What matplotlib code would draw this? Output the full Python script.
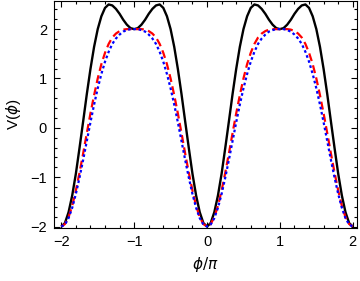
import matplotlib.pyplot as plt
from matplotlib.ticker import MultipleLocator
import numpy as np

plt.rcParams['font.family'] = ['Liberation Sans', 'DejaVu Sans']
plt.rcParams['mathtext.fontset'] = 'dejavusans'

# phi/pi sample positions, -2 .. 2 in steps of 0.05
x = np.arange(-40, 41) * 0.05

# black solid curve (double hump around +-1)
v_black = [
    -2.00, -1.93, -1.71, -1.37, -0.93, -0.41, 0.13, 0.68, 1.19, 1.64, 2.00,
    2.26, 2.43, 2.50, 2.48, 2.41, 2.31, 2.19, 2.09, 2.02, 2.00,
    2.02, 2.09, 2.19, 2.31, 2.41, 2.48, 2.50, 2.43, 2.26, 2.00,
    1.64, 1.19, 0.68, 0.13, -0.41, -0.93, -1.37, -1.71, -1.93, -2.00,
    -1.93, -1.71, -1.37, -0.93, -0.41, 0.13, 0.68, 1.19, 1.64, 2.00,
    2.26, 2.43, 2.50, 2.48, 2.41, 2.31, 2.19, 2.09, 2.02, 2.00,
    2.02, 2.09, 2.19, 2.31, 2.41, 2.48, 2.50, 2.43, 2.26, 2.00,
    1.64, 1.19, 0.68, 0.13, -0.41, -0.93, -1.37, -1.71, -1.93, -2.00,
]

# red dashed curve (flat top at +-1)
v_red = [
    -2.00, -1.95, -1.81, -1.58, -1.27, -0.91, -0.52, -0.11, 0.29, 0.66, 1.00,
    1.29, 1.52, 1.70, 1.83, 1.91, 1.96, 1.99, 2.00, 2.00, 2.00,
    2.00, 2.00, 1.99, 1.96, 1.91, 1.83, 1.70, 1.52, 1.29, 1.00,
    0.66, 0.29, -0.11, -0.52, -0.91, -1.27, -1.58, -1.81, -1.95, -2.00,
    -1.95, -1.81, -1.58, -1.27, -0.91, -0.52, -0.11, 0.29, 0.66, 1.00,
    1.29, 1.52, 1.70, 1.83, 1.91, 1.96, 1.99, 2.00, 2.00, 2.00,
    2.00, 2.00, 1.99, 1.96, 1.91, 1.83, 1.70, 1.52, 1.29, 1.00,
    0.66, 0.29, -0.11, -0.52, -0.91, -1.27, -1.58, -1.81, -1.95, -2.00,
]

# blue dotted curve (narrower top)
v_blue = [
    -2.00, -1.96, -1.83, -1.62, -1.34, -1.01, -0.65, -0.27, 0.11, 0.47, 0.80,
    1.09, 1.34, 1.54, 1.70, 1.81, 1.89, 1.95, 1.98, 2.00, 2.00,
    2.00, 1.98, 1.95, 1.89, 1.81, 1.70, 1.54, 1.34, 1.09, 0.80,
    0.47, 0.11, -0.27, -0.65, -1.01, -1.34, -1.62, -1.83, -1.96, -2.00,
    -1.96, -1.83, -1.62, -1.34, -1.01, -0.65, -0.27, 0.11, 0.47, 0.80,
    1.09, 1.34, 1.54, 1.70, 1.81, 1.89, 1.95, 1.98, 2.00, 2.00,
    2.00, 1.98, 1.95, 1.89, 1.81, 1.70, 1.54, 1.34, 1.09, 0.80,
    0.47, 0.11, -0.27, -0.65, -1.01, -1.34, -1.62, -1.83, -1.96, -2.00,
]

fig = plt.figure(figsize=(3.6, 2.81), dpi=100)
ax = fig.add_axes([54 / 360, 53 / 281, (357 - 54) / 360, 227.5 / 281])

ax.plot(x, v_black, color='black', lw=1.7, solid_capstyle='butt')
ax.plot(x, v_red, color='#ff0000', lw=1.6, dashes=(3.6, 2.0))
ax.plot(x, v_blue, color='#0000ff', lw=1.6, dashes=(1.2, 1.2))

ax.set_xlim(-2.10, 2.058)
ax.set_ylim(-2.03, 2.58)

ax.xaxis.set_major_locator(MultipleLocator(1))
ax.xaxis.set_minor_locator(MultipleLocator(0.2))
ax.yaxis.set_major_locator(MultipleLocator(1))
ax.yaxis.set_minor_locator(MultipleLocator(0.2))
ax.tick_params(which='both', direction='in', top=True, right=True,
               labelsize=10.5, width=0.8)
ax.tick_params(which='major', length=4.5, pad=5)
ax.tick_params(which='minor', length=2.5)
for s in ax.spines.values():
    s.set_linewidth(0.8)

ax.set_xlabel(r'$\phi/\pi$', fontsize=11, labelpad=4)
ax.set_ylabel(r'V($\phi$)', fontsize=11, labelpad=5)

fig.savefig('out.png', dpi=100)
